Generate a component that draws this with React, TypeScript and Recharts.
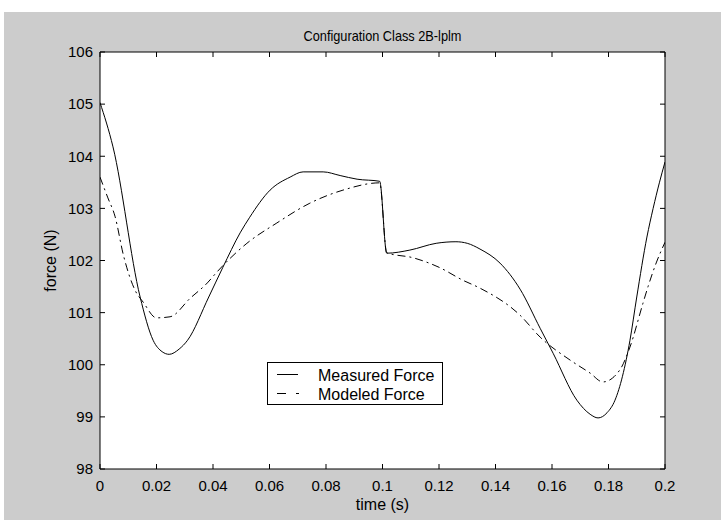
import React from 'react';
import { LineChart, Line, XAxis, YAxis, Legend, ReferenceArea, ReferenceLine } from 'recharts';

// values
const measuredTime = [0, 0.0046, 0.0142, 0.0188, 0.022, 0.0245, 0.028, 0.031, 0.0385, 0.0435, 0.0496, 0.053, 0.0602, 0.0673, 0.0719, 0.079, 0.085, 0.091, 0.099, 0.1015, 0.1097, 0.119, 0.126, 0.13, 0.1345, 0.1416, 0.1487, 0.1558, 0.1604, 0.1688, 0.1735, 0.1763, 0.1795, 0.1823, 0.1876, 0.19, 0.1936, 0.1958, 0.198, 0.2];
const measuredForce = [105.03, 104.18, 101.3, 100.47, 100.25, 100.2, 100.3, 100.47, 101.3, 101.87, 102.53, 102.83, 103.35, 103.6, 103.7, 103.7, 103.63, 103.56, 103.52, 102.14, 102.2, 102.33, 102.36, 102.33, 102.22, 101.95, 101.45, 100.7, 100.22, 99.32, 99.05, 98.98, 99.08, 99.32, 100.47, 101.3, 102.45, 103.0, 103.49, 103.89];

const modeledTime = [0, 0.0028, 0.0053, 0.0083, 0.0124, 0.0153, 0.02, 0.0248, 0.032, 0.038, 0.0414, 0.052, 0.0626, 0.0743, 0.086, 0.099, 0.1015, 0.111, 0.12, 0.1285, 0.1345, 0.1487, 0.1558, 0.1664, 0.1735, 0.178, 0.184, 0.1876, 0.1922, 0.194, 0.197, 0.2];
const modeledForce = [103.6, 103.2, 102.85, 102.1, 101.43, 101.2, 100.9, 100.92, 101.28, 101.57, 101.78, 102.33, 102.72, 103.1, 103.35, 103.49, 102.15, 102.05, 101.87, 101.62, 101.47, 100.95, 100.53, 100.09, 99.84, 99.67, 99.9, 100.34, 101.18, 101.5, 101.97, 102.35];

const timeTicks = [0, 0.02, 0.04, 0.06, 0.08, 0.1, 0.12, 0.14, 0.16, 0.18, 0.2];
const forceTicks = [98, 99, 100, 101, 102, 103, 104, 105, 106];
const seriesNames = ['Measured Force', 'Modeled Force'];

const FONT = '"Liberation Sans", Arial, sans-serif';
const DASH_DOT = '8 4 2 4';

const X_MIN = 0, X_MAX = 0.2, Y_MIN = 98, Y_MAX = 106;
const PLOT_W = 565, PLOT_H = 417;
// 5px inward tick marks, in data units
const X_TICK = ((X_MAX - X_MIN) * 5) / PLOT_W;
const Y_TICK = ((Y_MAX - Y_MIN) * 5) / PLOT_H;

const measured = measuredTime.map((t, i) => ({ t, v: measuredForce[i] }));
const modeled = modeledTime.map((t, i) => ({ t, v: modeledForce[i] }));

const LegendBox = () => (
  <svg width={176} height={43} style={{ display: 'block' }}>
    <rect x={0.5} y={0.5} width={175} height={42} fill="#fff" stroke="#000" />
    <line x1={10} x2={31} y1={12.5} y2={12.5} stroke="#000" />
    <line x1={10} x2={32} y1={31.5} y2={31.5} stroke="#000" strokeDasharray="9 10 3" />
    <text x={51} y={13} dominantBaseline="central" fontSize={16} fontFamily={FONT} fill="#000">
      {seriesNames[0]}
    </text>
    <text x={51} y={32} dominantBaseline="central" fontSize={16} fontFamily={FONT} fill="#000">
      {seriesNames[1]}
    </text>
  </svg>
);

const tickStyle = { fill: '#000', fontSize: 15, fontFamily: FONT };

export default function App() {
  return (
    <div style={{ position: 'absolute', left: 0, top: 0, width: 721, height: 520, background: '#fff' }}>
      <div style={{ position: 'absolute', left: 4, top: 12, width: 717, height: 508, background: '#cccccc' }}>
        {/* white axes background behind the transparent svg */}
        <div style={{ position: 'absolute', left: 96, top: 40, width: PLOT_W, height: PLOT_H, background: '#fff' }} />
        <div style={{ position: 'absolute', left: 0, top: 0 }}>
          <LineChart width={717} height={508} margin={{ top: 40, right: 56, bottom: 6, left: 36 }}>
            <XAxis
              dataKey="t"
              type="number"
              domain={[X_MIN, X_MAX]}
              ticks={timeTicks}
              allowDataOverflow
              height={45}
              axisLine={false}
              tickLine={false}
              tick={tickStyle}
              tickSize={0}
              tickMargin={11}
              label={{ value: 'time (s)', position: 'insideBottom', offset: 4, fill: '#000', fontSize: 16, fontFamily: FONT }}
            />
            <YAxis
              type="number"
              domain={[Y_MIN, Y_MAX]}
              ticks={forceTicks}
              allowDataOverflow
              width={60}
              axisLine={false}
              tickLine={false}
              tick={tickStyle}
              tickSize={0}
              tickMargin={7}
              label={{ value: 'force (N)', angle: -90, position: 'insideLeft', offset: 10, fill: '#000', fontSize: 16, fontFamily: FONT, style: { textAnchor: 'middle' } }}
            />
            <ReferenceArea
              x1={X_MIN}
              x2={X_MAX}
              y1={Y_MIN}
              y2={Y_MAX}
              fill="none"
              stroke="#000"
              strokeWidth={1}
              fillOpacity={0}
              strokeOpacity={1}
              ifOverflow="visible"
              label={{ value: 'Configuration Class 2B-lplm', position: 'top', offset: 11, fill: '#000', fontSize: 15, fontFamily: FONT, textLength: 158, lengthAdjust: 'spacingAndGlyphs' }}
            />
            {timeTicks.map((t) => (
              <ReferenceLine key={`b${t}`} segment={[{ x: t, y: Y_MIN }, { x: t, y: Y_MIN + Y_TICK }]} stroke="#000" ifOverflow="visible" />
            ))}
            {timeTicks.map((t) => (
              <ReferenceLine key={`t${t}`} segment={[{ x: t, y: Y_MAX }, { x: t, y: Y_MAX - Y_TICK }]} stroke="#000" ifOverflow="visible" />
            ))}
            {forceTicks.map((f) => (
              <ReferenceLine key={`l${f}`} segment={[{ x: X_MIN, y: f }, { x: X_MIN + X_TICK, y: f }]} stroke="#000" ifOverflow="visible" />
            ))}
            {forceTicks.map((f) => (
              <ReferenceLine key={`r${f}`} segment={[{ x: X_MAX, y: f }, { x: X_MAX - X_TICK, y: f }]} stroke="#000" ifOverflow="visible" />
            ))}
            <Legend
              layout="vertical"
              align="center"
              verticalAlign="middle"
              content={() => <LegendBox />}
              wrapperStyle={{ left: 263, top: 350, width: 176, height: 43 }}
            />
            <Line
              data={measured}
              dataKey="v"
              name={seriesNames[0]}
              type="monotone"
              stroke="#000"
              strokeWidth={1}
              dot={false}
              isAnimationActive={false}
            />
            <Line
              data={modeled}
              dataKey="v"
              name={seriesNames[1]}
              type="monotone"
              stroke="#000"
              strokeWidth={1}
              strokeDasharray={DASH_DOT}
              dot={false}
              isAnimationActive={false}
            />
          </LineChart>
        </div>
      </div>
    </div>
  );
}
